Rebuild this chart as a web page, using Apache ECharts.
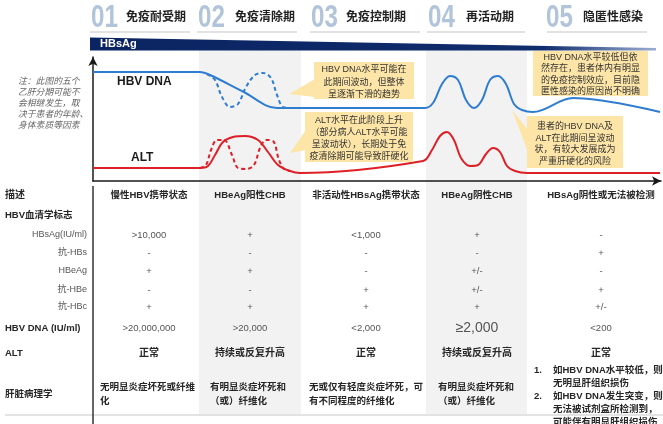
<!DOCTYPE html>
<html><head><meta charset="utf-8">
<script src="https://cdn.jsdelivr.net/npm/echarts@6/dist/echarts.min.js"></script>
<style>html,body{margin:0;padding:0;background:#fff}#c{width:663px;height:424px}</style>
</head><body><div id="c"></div><script>
// ---------- data ----------
const phaseNums = ['01','02','03','04','05'];
const phaseNames = ['免疫耐受期','免疫清除期','免疫控制期','再活动期','隐匿性感染'];
const columnTitles = ['慢性HBV携带状态','HBeAg阳性CHB','非活动性HBsAg携带状态','HBeAg阴性CHB','HBsAg阴性或无法被检测'];
const markerLabels = ['HBsAg(IU/ml)','抗-HBs','HBeAg','抗-HBe','抗-HBc'];
const hbsagRow = ['>10,000','+','<1,000','+','-'];
const antiHbsRow = ['-','-','-','-','+'];
const hbeagRow = ['+','+','-','+/-','-'];
const antiHbeRow = ['-','-','+','+/-','+'];
const antiHbcRow = ['+','+','+','+','+/-'];
const dnaRow = ['>20,000,000','>20,000','<2,000','≥2,000','<200'];
const altRow = ['正常','持续或反复升高','正常','持续或反复升高','正常'];
const pathologyRow = [
  ['无明显炎症坏死或纤维','化'],
  ['有明显炎症坏死和','（或）纤维化'],
  ['无或仅有轻度炎症坏死，可','有不同程度的纤维化'],
  ['有明显炎症坏死和','（或）纤维化'],
  ['如HBV DNA水平较低，则','无明显肝组织损伤','如HBV DNA发生突变，则','无法被试剂盒所检测到，','可能伴有明显肝组织损伤']
];
const noteLines = ['注：此图的五个','乙肝分期可能不','会相继发生，取','决于患者的年龄、','身体素质等因素'];
const box1Lines = ['HBV DNA水平可能在','此期间波动，但整体','呈逐渐下滑的趋势'];
const box2Lines = ['ALT水平在此阶段上升','（部分病人ALT水平可能','呈波动状），长期处于免','疫清除期可能导致肝硬化'];
const box3Lines = ['HBV DNA水平较低但依','然存在，患者体内有明显','的免疫控制效应，目前隐','匿性感染的原因尚不明确'];
const box4Lines = ['患者的HBV DNA及','ALT在此期间呈波动','状，有较大发展成为','严重肝硬化的风险'];
// curves: [time, level]
const dnaSolid = [[0,109],[107,109],[117,106],[150,89.5],[184,73],[237,73],[332,73],[340,78],[349,97],[357,105],[365,101],[373,81],[381,73],[389,81],[397,101],[405,105],[413,97],[421,77],[429,71],[440,69],[480,83],[567,69]];
const dnaDashed = [[114,107],[122,101],[129,84],[137,74],[145,77],[153,94],[162,106],[170,108],[178,103],[184,86],[190,74],[197,73]];
const altSolid = [[0,13],[107,13],[115,15],[122,26],[130,39],[140,44],[152,45],[165,41],[175,29],[185,16],[197,10],[207,8],[330,20],[339,31],[347,45],[354,49],[361,41],[368,23],[377,15],[385,16],[393,27],[400,33],[407,29],[414,15],[422,10],[434,8],[567,8]];
const altDashed = [[107,13],[113,16],[118,31],[124,41],[131,41],[139,26],[145,13],[153,12],[161,16],[167,33],[173,41],[180,40],[186,21],[191,12],[197,10]];

// ---------- layout ----------
const FONT = '"Liberation Sans","Noto Sans CJK SC",sans-serif';
const BLUE = '#2f7dd1', RED = '#dd2027', YEL = '#fde5a7', BAND = '#f2f2f2';
const colCenters = [149, 250, 366, 477, 601];
const headerPos = [[91,126,90,190],[198,235,197,297],[311,346,310,420],[428,466,427,525],[546,583,547,647]];

function txt(s, x, y, o) {
  o = o || {};
  const font = (o.italic ? 'italic ' : '') + (o.bold ? 'bold ' : '') + (o.size || 10) + 'px ' + (o.font || FONT);
  return {type:'text', x:x, y:y, z:o.z || 20, silent:true, scaleX:o.sx || 1,
    style:{text:s, x:0, y:0, fill:o.color || '#262626', font:font,
      align:o.align || 'left', textAlign:o.align || 'left', verticalAlign:'middle', textVerticalAlign:'middle'}};
}
const g = [];
// grey bands
[[199,301],[426,527]].forEach(b => g.push({type:'rect', z:-5, silent:true, shape:{x:b[0], y:50, width:b[1]-b[0], height:365}, style:{fill:BAND}}));
// headers
phaseNums.forEach((n,i) => {
  const p = headerPos[i];
  g.push(txt(n, p[0], 18, {size:31, bold:true, color:'#b1c4da', sx:0.78}));
  g.push(txt(phaseNames[i], p[1], 18, {size:12, bold:true, color:'#222'}));
  g.push({type:'line', silent:true, shape:{x1:p[2], y1:32, x2:p[3], y2:32}, style:{stroke:'#d9d9d9', lineWidth:1.5}});
});
// HBsAg bar
g.push({type:'polygon', z:5, silent:true, shape:{points:[[90,37.5],[656,48],[656,50.5],[90,50.5]]},
  style:{fill:new echarts.graphic.LinearGradient(0,0,1,0,[{offset:0,color:'#0b2462'},{offset:0.8,color:'#0f2c6c'},{offset:1,color:'#9aacd0'}])}});
g.push(txt('HBsAg', 100, 44, {size:11, bold:true, color:'#fff', z:6}));
// note
noteLines.forEach((l,i) => g.push(txt(l, 18, 82 + i*10.8, {size:8.8, italic:true, color:'#666'})));
// curve labels
g.push(txt('HBV DNA', 117, 82, {size:12, bold:true, color:'#1a1a1a'}));
g.push(txt('ALT', 131, 158, {size:12, bold:true, color:'#1a1a1a'}));
// callout boxes
function box(x, y, w, h, lines, ptr, cy, lh) {
  g.push({type:'rect', z:8, silent:true, shape:{x:x, y:y, width:w, height:h}, style:{fill:YEL}});
  if (ptr) g.push({type:'polygon', z:8, silent:true, shape:{points:ptr}, style:{fill:YEL}});
  lines.forEach((l,i) => g.push(txt(l, x + w/2, cy + i*lh, {size:9, align:'center', color:'#333', z:9})));
}
box(314, 62, 100, 37, box1Lines, [[289,94],[315,79],[315,97]], 70, 12.3);
box(305, 112, 108, 50, box2Lines, [[290,153],[306,130],[306,150]], 121, 12);
box(533, 51, 115, 45, box3Lines, null, 57.5, 11.5);
box(527, 116, 96, 52, box4Lines, [[512,110],[528,130],[528,152]], 127, 11.5);
// table
g.push(txt('描述', 5, 195, {size:10, bold:true}));
columnTitles.forEach((t,i) => g.push(txt(t, colCenters[i], 195, {size:9.5, bold:true, align:'center'})));
g.push(txt('HBV血清学标志', 5, 215, {size:9.5, bold:true}));
const markerRows = [hbsagRow, antiHbsRow, hbeagRow, antiHbeRow, antiHbcRow];
const markerY = [235, 253, 271, 290, 307];
markerLabels.forEach((l,i) => {
  g.push(txt(l, 87, markerY[i], {size:9, color:'#555', align:'right'}));
  markerRows[i].forEach((v,j) => g.push(txt(v, colCenters[j], markerY[i], {size:9.5, color:'#555', align:'center'})));
});
g.push(txt('HBV DNA (IU/ml)', 5, 328, {size:9.5, bold:true}));
dnaRow.forEach((v,j) => g.push(txt(v, colCenters[j], 328, {size: j===3 ? 14 : 9.5, color:'#555', align:'center'})));
g.push(txt('ALT', 5, 353, {size:9.5, bold:true}));
altRow.forEach((v,j) => g.push(txt(v, colCenters[j], 353, {size:10, bold:true, align:'center'})));
g.push(txt('肝脏病理学', 5, 394, {size:9.5, bold:true}));
const pathX = [100, 210, 309, 438];
for (let j = 0; j < 4; j++) pathologyRow[j].forEach((l,k) => g.push(txt(l, pathX[j], 387 + k*14, {size:9.5, bold:true})));
pathologyRow[4].forEach((l,k) => {
  if (k === 0) g.push(txt('1.', 534, 370, {size:9.5, bold:true}));
  if (k === 2) g.push(txt('2.', 534, 396, {size:9.5, bold:true}));
  g.push(txt(l, 553, 370 + k*13, {size:9.5, bold:true}));
});
g.push({type:'line', silent:true, z:1, shape:{x1:5, y1:415, x2:663, y2:415}, style:{stroke:'#e3e3e3', lineWidth:2}});
g.push({type:'line', silent:true, z:10, shape:{x1:93, y1:186, x2:93, y2:424}, style:{stroke:'#333', lineWidth:1.5}});

const chart = echarts.init(document.getElementById('c'), null, {renderer:'canvas', width:663, height:424});
const axisLine = {show:true, symbol:['none','arrow'], symbolSize:[7,9], lineStyle:{color:'#1a1a1a', width:1.5}};
chart.setOption({
  animation:false,
  grid:{left:93, top:57, width:568, height:124},
  xAxis:{type:'value', min:0, max:568, axisLine:axisLine, axisTick:{show:false}, axisLabel:{show:false}, splitLine:{show:false}},
  yAxis:{type:'value', min:0, max:124, axisLine:axisLine, axisTick:{show:false}, axisLabel:{show:false}, splitLine:{show:false}},
  series:[
    {type:'line', data:dnaSolid, smooth:0.35, symbol:'none', lineStyle:{color:BLUE, width:2}, z:4},
    {type:'line', data:dnaDashed, smooth:0.35, symbol:'none', lineStyle:{color:BLUE, width:2, type:[4,3]}, z:4},
    {type:'line', data:altSolid, smooth:0.35, symbol:'none', lineStyle:{color:RED, width:2}, z:4},
    {type:'line', data:altDashed, smooth:0.35, symbol:'none', lineStyle:{color:RED, width:2, type:[4,3]}, z:4}
  ],
  graphic:{elements:g}
});
</script></body></html>
